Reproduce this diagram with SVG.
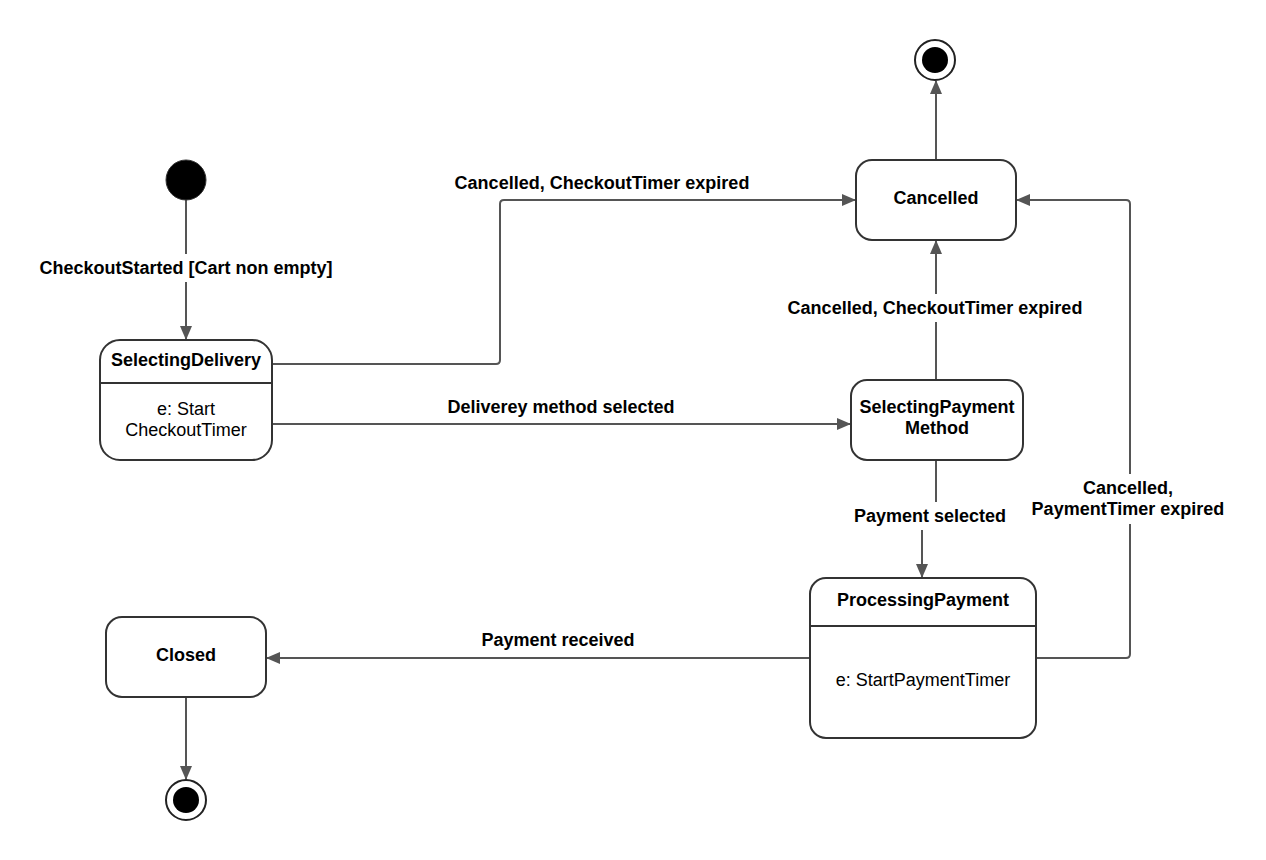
<svg xmlns="http://www.w3.org/2000/svg" width="1266" height="860" viewBox="0 0 1266 860">
<style>
.node{fill:#fff;stroke:#333;stroke-width:2}
.div{stroke:#333;stroke-width:2}
.conn{fill:none;stroke:#555;stroke-width:2}
.t{font-family:"Liberation Sans",Arial,sans-serif;font-size:18px;fill:#000;text-anchor:middle}
.b{font-weight:bold}
.bg{fill:#fff}
</style>
<defs>
<marker id="arr" viewBox="0 0 14 12" refX="13" refY="6" markerWidth="14" markerHeight="12" markerUnits="userSpaceOnUse" orient="auto">
<path d="M0,0 L14,6 L0,12 Z" fill="#555"/>
</marker>
</defs>
<rect width="1266" height="860" fill="#fff"/>

<g id="connectors">
<path class="conn" d="M186,200 V339" marker-end="url(#arr)"/>
<path class="conn" d="M272,364 H496 Q500,364 500,360 V204 Q500,200 504,200 H855" marker-end="url(#arr)"/>
<path class="conn" d="M272,424 H850" marker-end="url(#arr)"/>
<path class="conn" d="M936,380 V241" marker-end="url(#arr)"/>
<path class="conn" d="M936,160 V81" marker-end="url(#arr)"/>
<path class="conn" d="M936,460 V516 H922 V577" marker-end="url(#arr)"/>
<path class="conn" d="M810,658 H267" marker-end="url(#arr)"/>
<path class="conn" d="M1036,658 H1126 Q1130,658 1130,654 V204 Q1130,200 1126,200 H1017" marker-end="url(#arr)"/>
<path class="conn" d="M186,697 V779" marker-end="url(#arr)"/>

<rect class="bg" x="36" y="254" width="300" height="28"/>
<text class="t b" x="186" y="274">CheckoutStarted [Cart non empty]</text>
<text class="t b" x="602" y="189">Cancelled, CheckoutTimer expired</text>
<text class="t b" x="561" y="413">Deliverey method selected</text>
<rect class="bg" x="784" y="294" width="302" height="28"/>
<text class="t b" x="935" y="314">Cancelled, CheckoutTimer expired</text>
<rect class="bg" x="850" y="502" width="160" height="28"/>
<text class="t b" x="930" y="522">Payment selected</text>
<text class="t b" x="558" y="646">Payment received</text>
<rect class="bg" x="1030" y="474" width="198" height="50"/>
<text class="t b" x="1128" y="494">Cancelled,</text>
<text class="t b" x="1128" y="515">PaymentTimer expired</text>
</g>

<g id="initial">
<circle cx="186" cy="180" r="20" fill="#000" stroke="#333" stroke-width="1"/>
</g>

<g id="final-top">
<circle cx="935" cy="60" r="20" fill="#fff" stroke="#222" stroke-width="2"/>
<circle cx="935" cy="60" r="13" fill="#000"/>
</g>

<g id="final-bottom">
<circle cx="186" cy="800" r="20" fill="#fff" stroke="#222" stroke-width="2"/>
<circle cx="186" cy="800" r="13" fill="#000"/>
</g>

<g id="selecting-delivery">
<rect class="node" x="100" y="340" width="172" height="120" rx="20"/>
<line class="div" x1="100" y1="383" x2="272" y2="383"/>
<text class="t b" x="186" y="366">SelectingDelivery</text>
<text class="t" x="186" y="415">e: Start</text>
<text class="t" x="186" y="436">CheckoutTimer</text>
</g>

<g id="cancelled">
<rect class="node" x="856" y="160" width="160" height="80" rx="16"/>
<text class="t b" x="936" y="204">Cancelled</text>
</g>

<g id="selecting-payment-method">
<rect class="node" x="851" y="380" width="172" height="80" rx="16"/>
<text class="t b" x="937" y="413">SelectingPayment</text>
<text class="t b" x="937" y="434">Method</text>
</g>

<g id="processing-payment">
<rect class="node" x="810" y="578" width="226" height="160" rx="16"/>
<line class="div" x1="810" y1="626" x2="1036" y2="626"/>
<text class="t b" x="923" y="606">ProcessingPayment</text>
<text class="t" x="923" y="686">e: StartPaymentTimer</text>
</g>

<g id="closed">
<rect class="node" x="106" y="617" width="160" height="80" rx="16"/>
<text class="t b" x="186" y="661">Closed</text>
</g>
</svg>
